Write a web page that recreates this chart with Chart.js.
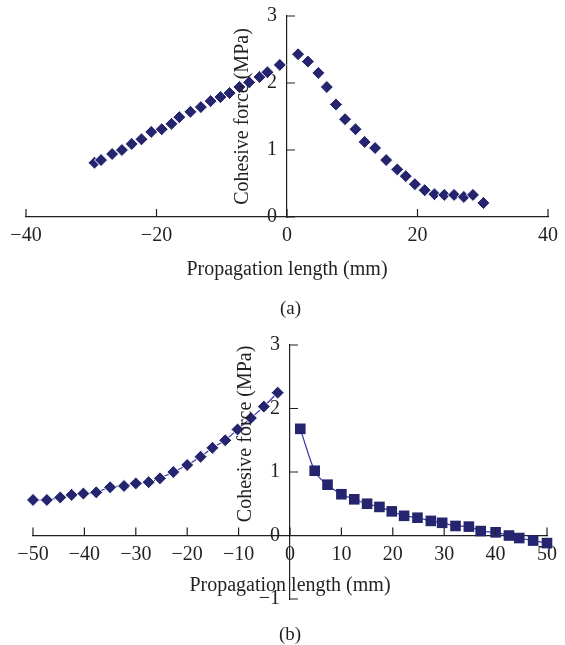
<!DOCTYPE html>
<html>
<head>
<meta charset="utf-8">
<script src="https://cdn.jsdelivr.net/npm/chart.js@4.4.0/dist/chart.umd.min.js"></script>
<style>
  body { margin: 0; background: #fff; }
  canvas { display: block; }
</style>
</head>
<body>
<canvas id="chartA" width="565" height="320"></canvas>
<canvas id="chartB" width="565" height="325"></canvas>
<script>
// (a) propagation length (mm) and cohesive force (MPa)
var lenA_left = [-29.5, -28.5, -26.8, -25.3, -23.8, -22.3, -20.8, -19.2, -17.7, -16.5, -14.8, -13.2, -11.7, -10.2, -8.8, -7.3, -5.8, -4.2, -3.0, -1.1];
var forceA_left = [0.81, 0.85, 0.94, 1.00, 1.09, 1.16, 1.27, 1.31, 1.39, 1.49, 1.57, 1.64, 1.73, 1.79, 1.85, 1.94, 2.01, 2.09, 2.16, 2.27];
var lenA_right = [1.7, 3.2, 4.8, 6.1, 7.5, 8.9, 10.5, 11.9, 13.5, 15.2, 16.9, 18.2, 19.6, 21.1, 22.6, 24.1, 25.6, 27.1, 28.5, 30.1];
var forceA_right = [2.43, 2.32, 2.15, 1.94, 1.68, 1.46, 1.31, 1.12, 1.03, 0.85, 0.71, 0.61, 0.49, 0.40, 0.34, 0.33, 0.33, 0.30, 0.33, 0.21];
var xTicksA = [-40, -20, 0, 20, 40];
var yTicksA = [0, 1, 2, 3];

// (b)
var lenB_left = [-50, -47.3, -44.7, -42.5, -40.2, -37.7, -35.0, -32.3, -30.0, -27.5, -25.3, -22.7, -20.0, -17.4, -15.1, -12.6, -10.2, -7.6, -5.1, -2.4];
var forceB_left = [0.56, 0.56, 0.60, 0.64, 0.66, 0.68, 0.76, 0.78, 0.82, 0.84, 0.90, 1.00, 1.11, 1.24, 1.38, 1.50, 1.67, 1.85, 2.03, 2.25];
var lenB_right = [2.0, 4.8, 7.3, 10.0, 12.5, 15.0, 17.4, 19.8, 22.2, 24.8, 27.4, 29.6, 32.2, 34.8, 37.1, 40.0, 42.6, 44.6, 47.3, 50.0];
var forceB_right = [1.68, 1.02, 0.80, 0.65, 0.57, 0.50, 0.45, 0.38, 0.31, 0.28, 0.23, 0.20, 0.15, 0.14, 0.07, 0.05, 0.00, -0.04, -0.08, -0.12];
var xTicksB = [-50, -40, -30, -20, -10, 0, 10, 20, 30, 40, 50];
var yTicksB = [-1, 0, 1, 2, 3];

var xTitle = "Propagation length (mm)";
var yTitle = "Cohesive force (MPa)";

var markColor = "#25256f";
var lineColor = "#3737a6";
var axisColor = "#231f20";
var serif = '"Liberation Serif", "DejaVu Serif", serif';

function pts(xs, ys) {
    return xs.map(function (x, i) { return {x: x, y: ys[i]}; });
}

function minus(v) {
    return String(v).replace("-", "\u2212");
}

// y labels: chart.js puts them flush against an axis placed at x = 0, so keep a gap
function minusGap(v) {
    return minus(v) + "  ";
}

// tick marks pointing inwards (up / right) from the crossing axes
var innerTicks = {
    id: "innerTicks",
    afterDatasetsDraw: function (chart) {
        var ctx = chart.ctx;
        var xs = chart.scales.x, ys = chart.scales.y;
        var x0 = xs.getPixelForValue(0), y0 = ys.getPixelForValue(0);
        ctx.save();
        ctx.strokeStyle = axisColor;
        ctx.lineWidth = 1.2;
        ctx.beginPath();
        xs.ticks.forEach(function (t) {
            var px = xs.getPixelForValue(t.value);
            ctx.moveTo(px, y0);
            ctx.lineTo(px, y0 - 8);
        });
        ys.ticks.forEach(function (t) {
            var py = ys.getPixelForValue(t.value);
            ctx.moveTo(x0, py);
            ctx.lineTo(x0 + 8, py);
        });
        ctx.stroke();
        ctx.restore();
    }
};

// rotated y title sitting next to the y axis at x = 0
var yTitlePlugin = {
    id: "yTitle",
    afterDatasetsDraw: function (chart, args, opts) {
        var ctx = chart.ctx;
        var px = chart.scales.x.getPixelForValue(0) - opts.offset;
        var py = chart.scales.y.getPixelForValue(opts.at);
        ctx.save();
        ctx.translate(px, py);
        ctx.rotate(-Math.PI / 2);
        ctx.font = "20px " + serif;
        ctx.fillStyle = axisColor;
        ctx.textAlign = "center";
        ctx.textBaseline = "middle";
        ctx.fillText(yTitle, 0, 0);
        ctx.restore();
    }
};

function buildOptions(xTicks, yTicks, padding, label, titlePad, xTitleTop, yTitleAt) {
    return {
        responsive: false,
        animation: false,
        devicePixelRatio: 1,
        layout: { padding: padding },
        plugins: {
            legend: { display: false },
            tooltip: { enabled: false },
            title: {
                display: true,
                position: "bottom",
                text: label,
                color: axisColor,
                font: { family: serif, size: 19, weight: "normal", lineHeight: 1 },
                padding: titlePad
            },
            yTitle: { offset: 44, at: yTitleAt }
        },
        scales: {
            x: {
                type: "linear",
                position: { y: 0 },
                min: xTicks[0],
                max: xTicks[xTicks.length - 1],
                grid: { drawOnChartArea: false, drawTicks: false },
                border: { color: axisColor, width: 1.2 },
                ticks: {
                    stepSize: xTicks[1] - xTicks[0],
                    padding: 7,
                    maxRotation: 0,
                    autoSkip: false,
                    color: axisColor,
                    font: { family: serif, size: 20 },
                    callback: minus
                },
                title: {
                    display: true,
                    text: xTitle,
                    color: axisColor,
                    font: { family: serif, size: 20 },
                    padding: { top: xTitleTop, bottom: 0 }
                }
            },
            y: {
                type: "linear",
                position: { x: 0 },
                min: yTicks[0],
                max: yTicks[yTicks.length - 1],
                grid: { drawOnChartArea: false, drawTicks: false },
                border: { color: axisColor, width: 1.2 },
                ticks: {
                    stepSize: 1,
                    color: axisColor,
                    font: { family: serif, size: 20 },
                    callback: minusGap
                }
            }
        }
    };
}

new Chart(document.getElementById("chartA"), {
    type: "scatter",
    data: {
        datasets: [{
            data: pts(lenA_left, forceA_left),
            pointStyle: "rectRot",
            pointRadius: 6.5,
            backgroundColor: markColor,
            borderColor: "#ffffff",
            borderWidth: 1,
            clip: false
        }, {
            data: pts(lenA_right, forceA_right),
            pointStyle: "rectRot",
            pointRadius: 6.5,
            backgroundColor: markColor,
            borderColor: "#ffffff",
            borderWidth: 1,
            clip: false
        }]
    },
    options: buildOptions(xTicksA, yTicksA, { left: 26, right: 10, top: 16, bottom: 0 }, "(a)", { top: 83, bottom: 1 }, 3, 1.5),
    plugins: [innerTicks, yTitlePlugin]
});

new Chart(document.getElementById("chartB"), {
    type: "line",
    data: {
        datasets: [{
            data: pts(lenB_left, forceB_left),
            pointStyle: "rectRot",
            pointRadius: 6.5,
            pointBackgroundColor: markColor,
            pointBorderColor: "#ffffff",
            pointBorderWidth: 1,
            borderColor: lineColor,
            borderWidth: 1.2,
            tension: 0.3,
            clip: false
        }, {
            data: pts(lenB_right, forceB_right),
            pointStyle: "rect",
            pointRadius: 7.5,
            pointBackgroundColor: markColor,
            pointBorderColor: markColor,
            pointBorderWidth: 0,
            borderColor: lineColor,
            borderWidth: 1.2,
            cubicInterpolationMode: "monotone",
            clip: false
        }]
    },
    options: buildOptions(xTicksB, yTicksB, { left: 33, right: 18, top: 25, bottom: 0 }, "(b)", { top: 27, bottom: 0 }, 0, 1.6),
    plugins: [innerTicks, yTitlePlugin]
});
</script>
</body>
</html>
